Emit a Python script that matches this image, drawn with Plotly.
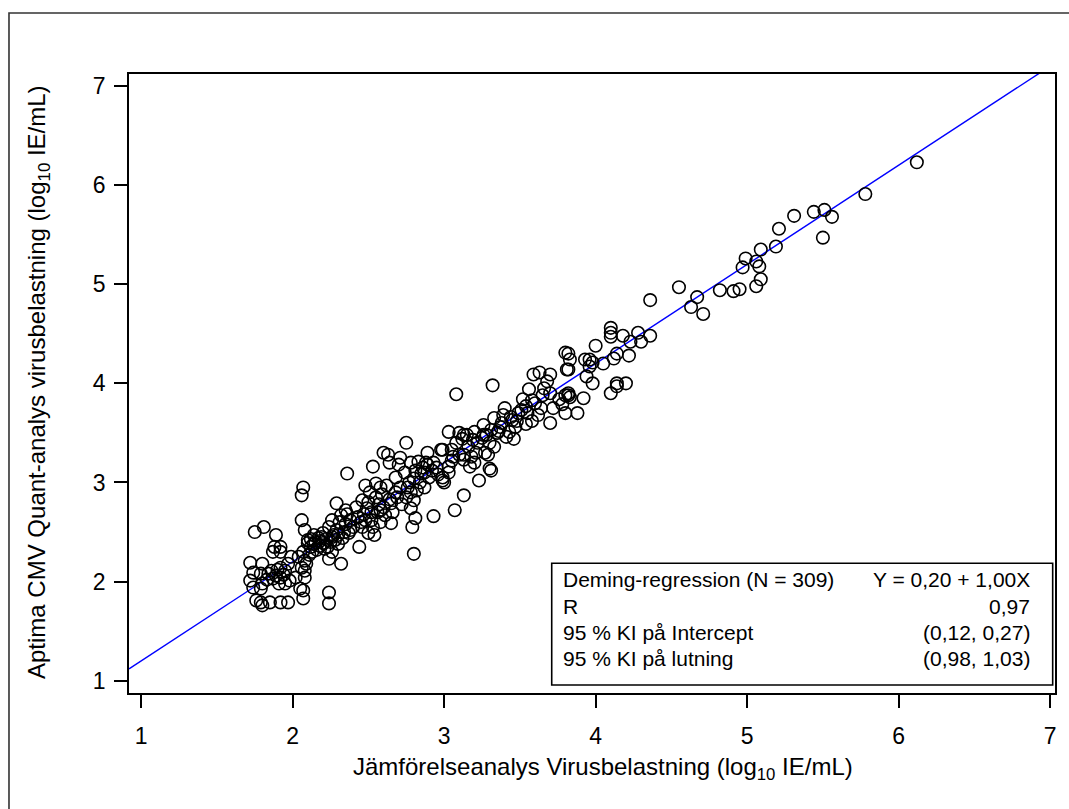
import plotly.graph_objects as go

# jämförelseanalys (x) vs Aptima CMV Quant (y), log10 IE/mL, uppskattat från figuren
x_vals = [
    6.12, 5.78, 5.51, 5.44, 5.56, 5.31, 5.21, 5.50, 5.19, 5.09, 5.06, 5.08, 5.09, 5.06, 4.99, 4.97, 4.95, 4.91, 4.82,
    4.55, 4.67, 4.63, 4.71, 4.36, 4.10, 4.10, 4.10, 4.18, 4.28, 4.36, 4.30, 4.23, 4.00, 4.22, 4.14, 4.12, 4.14, 4.20, 4.10, 4.14,
    3.96, 3.98, 3.82, 3.83, 3.82, 3.96, 3.98, 3.94, 3.82, 3.80, 3.80, 3.93, 3.81, 3.82, 3.83, 3.88, 3.80, 3.78,
    3.59, 3.63, 3.70, 3.68, 3.66, 3.56, 3.76, 3.52, 3.58, 3.54, 3.51, 3.62, 3.70, 3.54, 3.49, 3.60, 3.65, 3.72,
    3.32, 3.40, 3.39, 3.33, 3.45, 3.47, 3.43, 3.37, 3.46, 3.41, 3.31, 3.26, 3.33, 3.29, 3.31, 3.30, 3.23, 3.20, 3.19, 3.20,
    3.28, 3.35, 3.25, 3.30, 3.27,
    3.08, 3.13, 3.10, 3.03, 3.08, 3.16, 3.13, 3.18, 3.13, 3.06, 3.03, 3.13, 3.07, 3.03, 3.12, 3.15, 3.00, 3.05, 3.17,
    2.99, 2.89, 2.93, 2.99, 2.89, 2.87, 2.93, 2.98, 2.99, 2.88, 2.83, 2.81, 2.85, 2.80, 2.87, 2.80, 2.81, 2.79, 2.80, 2.84,
    2.92, 2.96, 2.82,
    2.78, 2.78, 2.78, 2.75, 2.71, 2.70, 2.64, 2.63, 2.71, 2.68, 2.65, 2.60, 2.61, 2.65, 2.60, 2.75, 2.72, 2.68, 2.62, 2.66,
    2.74, 2.77,
    2.53, 2.58, 2.55, 2.51, 2.48, 2.46, 2.49, 2.56, 2.58, 2.53, 2.50, 2.46, 2.43, 2.44, 2.52, 2.55, 2.47, 2.57, 2.42, 2.50,
    2.45, 2.54, 2.59,
    2.36, 2.38, 2.35, 2.32, 2.29, 2.26, 2.24, 2.34, 2.37, 2.20, 2.23, 2.26, 2.24, 2.32, 2.24, 2.24, 2.20, 2.28, 2.30, 2.33,
    2.27, 2.22, 2.35, 2.25, 2.21, 2.29, 2.36, 2.31,
    2.17, 2.14, 2.10, 2.07, 2.08, 2.06, 2.08, 2.07, 2.07, 2.06, 2.06, 2.08, 2.10, 2.08, 2.05, 2.07, 2.12, 2.15, 2.18, 2.13,
    2.02, 2.11, 2.16, 2.19, 2.04, 2.09, 2.14, 2.12,
    1.75, 1.81, 1.89, 1.92, 1.92, 1.99, 1.72, 1.80, 1.74, 1.72, 1.74, 1.79, 1.84, 1.80, 1.79, 1.86, 1.89, 1.92, 1.95, 1.92,
    1.87, 1.95, 1.98, 1.76, 1.79, 1.80, 1.85, 1.92, 1.97, 1.87, 1.88, 1.90, 1.94, 1.83, 1.97, 1.91,
    3.22, 3.38, 3.44, 3.48, 3.36, 3.26, 3.21, 3.10, 3.05, 2.95, 2.90, 2.86, 2.76, 2.69, 2.64, 2.58, 2.52, 2.48, 2.40, 2.38,
    2.30, 2.26, 2.18, 3.55, 3.64, 3.70, 3.58, 4.05, 3.92,
]
y_vals = [
    6.23, 5.91, 5.75, 5.73, 5.68, 5.69, 5.56, 5.47, 5.38, 5.35, 5.23, 5.18, 5.05, 4.98, 5.26, 5.17, 4.95, 4.93, 4.94,
    4.97, 4.87, 4.77, 4.70, 4.84, 4.56, 4.51, 4.47, 4.48, 4.51, 4.48, 4.42, 4.42, 4.38, 4.28, 4.30, 4.25, 4.00, 4.00, 3.90, 3.97,
    4.24, 4.21, 4.30, 4.24, 4.14, 4.17, 4.00, 4.07, 3.90, 3.88, 4.31, 4.24, 4.14, 3.88, 3.86, 3.70, 3.70, 3.79,
    4.09, 4.11, 4.09, 4.02, 3.95, 3.94, 3.84, 3.84, 3.83, 3.77, 3.73, 3.68, 3.60, 3.59, 3.70, 3.80, 3.88, 3.75,
    3.98, 3.75, 3.68, 3.65, 3.63, 3.56, 3.51, 3.56, 3.44, 3.46, 3.53, 3.58, 3.36, 3.28, 3.12, 3.14, 3.02, 3.20, 3.43, 3.51,
    3.48, 3.50, 3.45, 3.40, 3.30,
    3.89, 3.48, 3.50, 3.51, 3.40, 3.36, 3.28, 3.26, 3.23, 3.26, 3.10, 2.87, 2.72, 3.16, 3.44, 3.48, 3.00, 3.33, 3.16,
    3.33, 3.30, 3.20, 3.05, 3.18, 3.10, 2.66, 3.33, 3.02, 3.20, 3.21, 3.12, 3.09, 3.04, 2.95, 2.82, 2.64, 2.55, 2.28, 3.00,
    3.12, 3.08, 2.92,
    3.20, 2.90, 2.74, 3.40, 3.25, 3.18, 3.20, 3.28, 2.95, 2.90, 2.79, 2.75, 2.67, 2.59, 3.30, 2.85, 2.78, 3.05, 2.97, 2.70,
    3.10, 3.00,
    3.16, 2.95, 2.99, 2.90, 2.97, 2.82, 2.74, 2.70, 2.60, 2.55, 2.49, 2.55, 2.65, 2.35, 2.62, 2.85, 2.68, 2.78, 2.75, 2.80,
    2.60, 2.47, 2.88,
    3.09, 2.62, 2.72, 2.67, 2.79, 2.62, 2.55, 2.50, 2.49, 2.49, 2.35, 2.30, 2.23, 2.18, 1.89, 1.78, 2.39, 2.42, 2.38, 2.44,
    2.47, 2.43, 2.58, 2.40, 2.33, 2.52, 2.68, 2.60,
    2.44, 2.47, 2.39, 2.30, 2.21, 2.14, 2.04, 1.91, 2.95, 2.87, 2.62, 2.52, 2.42, 2.11, 1.93, 1.83, 2.35, 2.40, 2.36, 2.30,
    2.04, 2.27, 2.32, 2.45, 2.25, 2.18, 2.38, 2.43,
    2.50, 2.55, 2.47, 2.35, 2.30, 2.25, 2.19, 2.18, 2.09, 2.01, 1.94, 2.08, 2.08, 1.98, 1.93, 2.11, 2.06, 2.04, 2.11, 2.14,
    2.03, 1.98, 2.01, 1.81, 1.79, 1.76, 1.79, 1.79, 1.79, 2.30, 2.35, 2.12, 2.07, 2.02, 2.18, 1.98,
    3.40, 3.60, 3.66, 3.62, 3.52, 3.48, 3.30, 3.28, 3.22, 3.15, 3.05, 3.15, 2.95, 2.85, 2.83, 2.72, 2.70, 2.62, 2.55, 2.52,
    2.47, 2.45, 2.41, 3.70, 3.75, 3.90, 3.62, 4.20, 3.85,
]

# Deming-regression
intercept = 0.20
slope = 1.00
x_range = [0.92, 7.032]
y_range = [0.876, 7.121]
tick_vals = [1, 2, 3, 4, 5, 6, 7]

stats_left = ["Deming-regression (N = 309)", "R", "95 % KI på Intercept", "95 % KI på lutning"]
stats_right = ["Y = 0,20 + 1,00X", "0,97", "(0,12, 0,27)", "(0,98, 1,03)"]
row_y = [0.1826, 0.1405, 0.0985, 0.0565]

FONT = "Arial, Liberation Sans, sans-serif"

fig = go.Figure()

line_y = [intercept + slope * v for v in x_range]
fig.add_trace(go.Scatter(x=x_range, y=line_y, mode="lines",
                         line=dict(color="#0000ff", width=1.4), hoverinfo="skip"))

fig.add_trace(go.Scatter(x=x_vals, y=y_vals, mode="markers",
                         marker=dict(symbol="circle-open", size=12.5, color="black",
                                     line=dict(width=1.6, color="black"))))

axis_common = dict(
    tickvals=tick_vals, ticks="outside", ticklen=13, tickwidth=1.6, tickcolor="black",
    showline=True, linecolor="black", linewidth=1.8, mirror=True,
    showgrid=False, zeroline=False,
    tickfont=dict(family=FONT, size=23, color="black"),
)
fig.update_xaxes(range=x_range, ticklabelstandoff=8, **axis_common)
fig.update_yaxes(range=y_range, ticklabelstandoff=4, **axis_common)

# rutan med statistik
fig.add_shape(type="rect", xref="paper", yref="paper", x0=0.4565, x1=0.9975, y0=0.0129, y1=0.2095,
              line=dict(color="black", width=1.6), fillcolor="white", layer="above")
for txt, yy in zip(stats_left, row_y):
    fig.add_annotation(text=txt, xref="paper", yref="paper", x=0.4662, y=yy,
                       xanchor="left", yanchor="middle", showarrow=False,
                       font=dict(family=FONT, size=21, color="black"))
for txt, yy in zip(stats_right, row_y):
    fig.add_annotation(text=txt, xref="paper", yref="paper", x=0.9748, y=yy,
                       xanchor="right", yanchor="middle", showarrow=False,
                       font=dict(family=FONT, size=21, color="black"))

# axeltitlar
fig.add_annotation(text="Jämförelseanalys Virusbelastning (log<sub>10</sub> IE/mL)",
                   xref="paper", yref="paper", x=0.512, y=-0.1212,
                   xanchor="center", yanchor="middle", showarrow=False,
                   font=dict(family=FONT, size=24, color="black"))
fig.add_annotation(text="Aptima CMV Quant-analys virusbelastning (log<sub>10</sub> IE/mL)",
                   xref="paper", yref="paper", x=-0.0983, y=0.5024, textangle=-90,
                   xanchor="center", yanchor="middle", showarrow=False,
                   font=dict(family=FONT, size=24, color="black"))

# yttre ram
fig.add_shape(type="rect", xref="paper", yref="paper", x0=-0.1296, x1=1.1, y0=-0.3, y1=1.0985,
              line=dict(color="#333333", width=1.6), layer="below")

fig.update_layout(
    width=1069, height=809,
    margin=dict(l=129, r=14, t=74, b=116),
    paper_bgcolor="white", plot_bgcolor="white",
    showlegend=False,
    font=dict(family=FONT, color="black"),
)

fig.write_html("out.html", config={"displayModeBar": False},
               post_script="document.body.style.margin='0';")
